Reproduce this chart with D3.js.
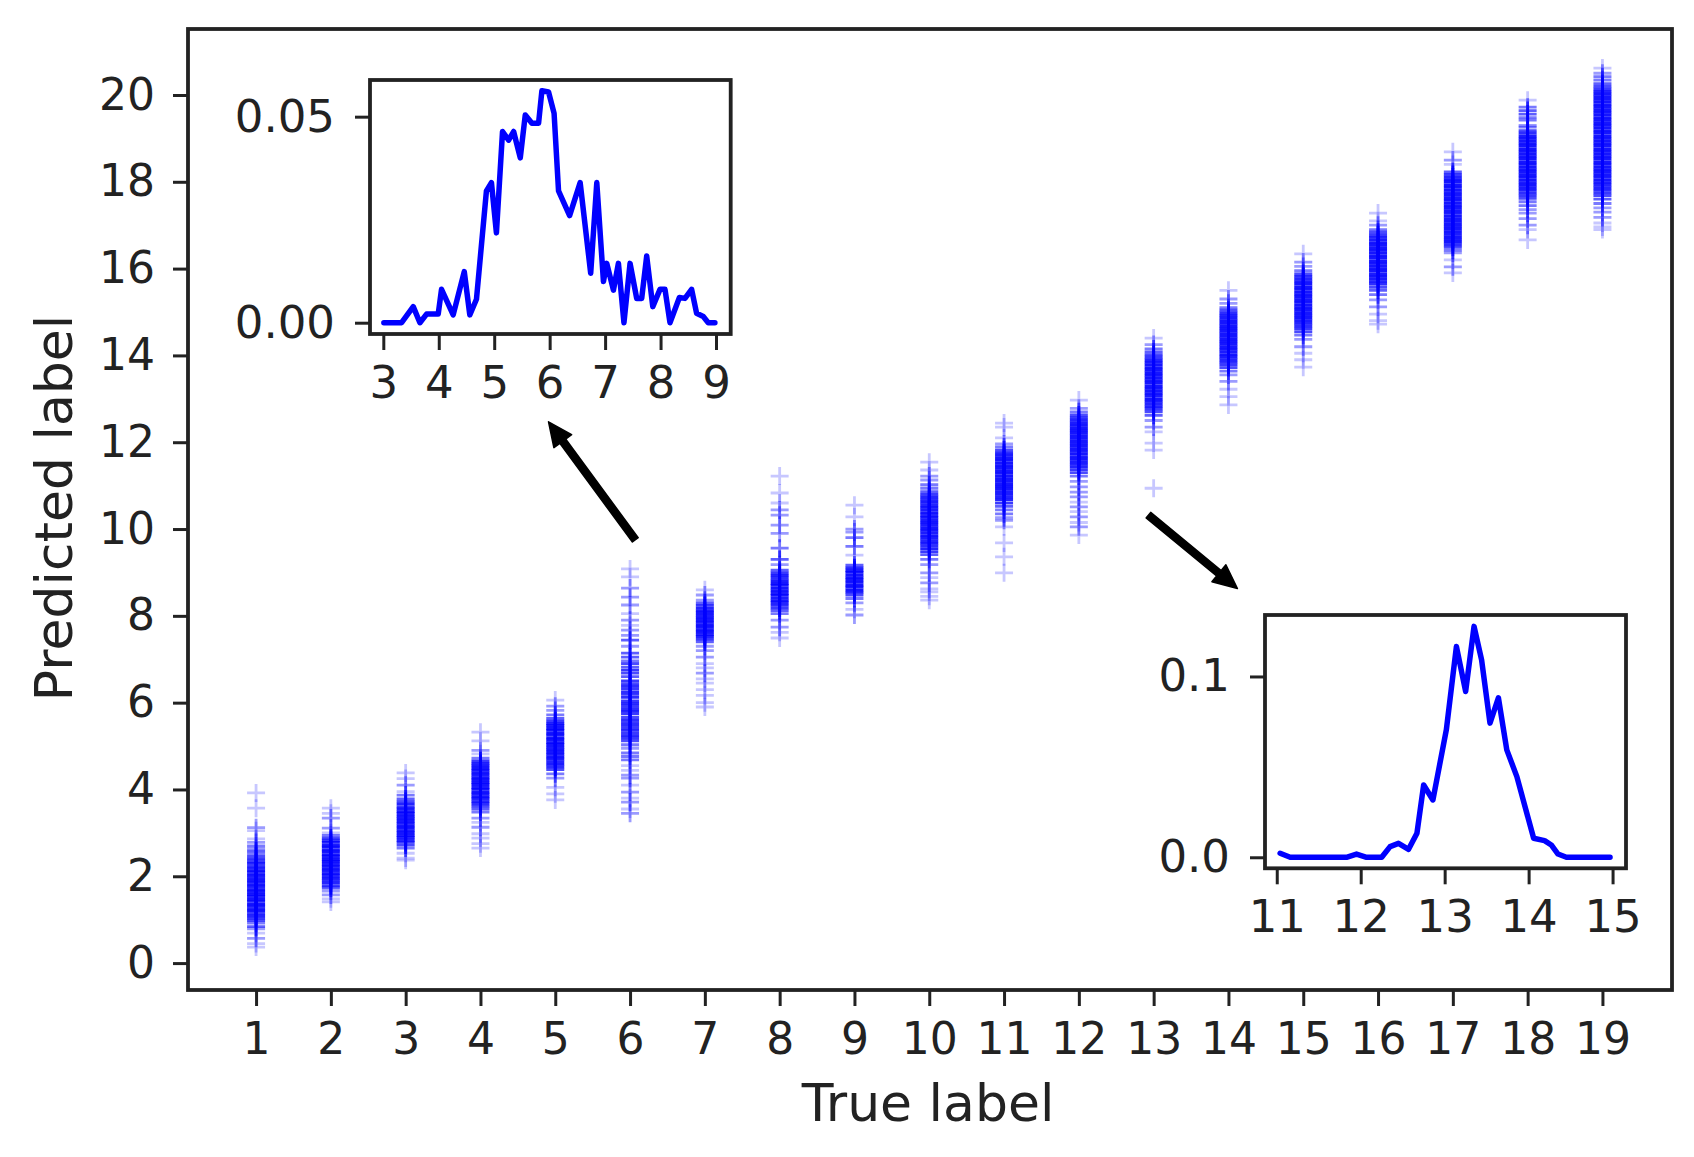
<!DOCTYPE html>
<html>
<head>
<meta charset="utf-8">
<script src="https://cdn.jsdelivr.net/npm/d3@7"></script>
<style>
  body { margin: 0; background: #fff; }
  .tick text { font-family: "DejaVu Sans", sans-serif; fill: #222; }
  .axisLabel { font-family: "DejaVu Sans", sans-serif; fill: #222; font-size: 52px; }
</style>
</head>
<body>
<div class="chart"></div>
<script>
// true labels along x
var trueLabels = [1, 2, 3, 4, 5, 6, 7, 8, 9, 10, 11, 12, 13, 14, 15, 16, 17, 18, 19];

// predicted values for each true label, as [predicted, how many points overlap there]
var predicted = [
  [[3.92,1],[3.57,1],[3.12,2],[3.05,1],[2.86,1],[2.78,2],[2.7,3],[2.64,2],[2.58,4],[2.52,3],[2.46,5],[2.4,6],[2.35,5],[2.3,8],[2.24,6],[2.19,8],[2.13,10],[2.08,7],[2.02,10],[1.97,8],[1.91,10],[1.86,9],[1.8,10],[1.75,8],[1.69,10],[1.64,9],[1.58,10],[1.53,8],[1.47,10],[1.42,8],[1.36,10],[1.31,9],[1.25,8],[1.2,10],[1.14,6],[1.09,8],[1.03,6],[0.98,5],[0.92,3],[0.84,4],[0.79,2],[0.69,1],[0.57,2],[0.45,1],[0.37,1]],
  [[3.57,1],[3.45,1],[3.34,2],[3.11,2],[3.0,1],[2.94,3],[2.88,5],[2.83,6],[2.78,8],[2.72,9],[2.67,10],[2.61,9],[2.56,10],[2.5,10],[2.45,9],[2.39,10],[2.34,10],[2.28,9],[2.23,10],[2.17,10],[2.12,9],[2.06,10],[2.01,8],[1.95,9],[1.9,7],[1.84,8],[1.78,6],[1.73,4],[1.66,2],[1.57,2],[1.48,1],[1.41,1]],
  [[4.38,1],[4.25,1],[4.1,2],[3.95,1],[3.87,3],[3.78,4],[3.72,5],[3.66,8],[3.6,6],[3.55,9],[3.49,10],[3.44,9],[3.38,10],[3.33,10],[3.27,10],[3.22,9],[3.16,10],[3.11,10],[3.05,9],[3.0,10],[2.94,9],[2.89,8],[2.83,8],[2.78,6],[2.72,5],[2.65,3],[2.53,1],[2.42,1],[2.37,1]],
  [[5.32,1],[5.12,1],[4.9,2],[4.82,1],[4.72,3],[4.66,6],[4.6,8],[4.55,9],[4.49,10],[4.44,10],[4.38,10],[4.33,9],[4.27,10],[4.22,10],[4.16,10],[4.11,10],[4.05,9],[4.0,10],[3.94,10],[3.89,9],[3.83,10],[3.78,8],[3.72,8],[3.67,7],[3.61,5],[3.55,4],[3.48,3],[3.34,2],[3.24,1],[3.13,2],[2.98,1],[2.88,1],[2.75,1],[2.65,1]],
  [[6.06,1],[5.92,2],[5.82,2],[5.72,3],[5.64,4],[5.58,6],[5.52,8],[5.47,9],[5.41,10],[5.36,10],[5.3,10],[5.25,9],[5.19,10],[5.14,10],[5.08,10],[5.03,10],[4.97,9],[4.92,10],[4.86,10],[4.81,9],[4.75,10],[4.7,9],[4.64,8],[4.58,9],[4.52,7],[4.46,5],[4.36,3],[4.26,2],[4.05,1],[3.9,1],[3.76,1]],
  [[9.08,1],[8.9,1],[8.64,2],[8.43,2],[8.25,2],[8.05,1],[7.9,2],[7.78,1],[7.67,2],[7.55,2],[7.44,4],[7.3,2],[7.14,4],[7.05,4],[6.96,3],[6.9,5],[6.82,4],[6.75,6],[6.68,5],[6.6,4],[6.5,6],[6.44,5],[6.38,7],[6.32,6],[6.25,7],[6.19,6],[6.12,7],[6.04,6],[5.98,7],[5.92,6],[5.86,7],[5.8,8],[5.74,6],[5.66,5],[5.6,7],[5.54,6],[5.48,7],[5.42,6],[5.36,7],[5.3,6],[5.24,7],[5.18,6],[5.12,5],[5.03,3],[4.95,2],[4.84,3],[4.76,3],[4.68,3],[4.55,1],[4.44,1],[4.33,2],[4.26,2],[4.1,1],[3.94,2],[3.8,1],[3.71,2],[3.55,1],[3.45,2]],
  [[8.6,1],[8.48,2],[8.36,2],[8.3,4],[8.24,6],[8.18,8],[8.12,9],[8.07,10],[8.01,9],[7.96,10],[7.9,10],[7.85,9],[7.79,10],[7.74,10],[7.68,9],[7.63,10],[7.57,8],[7.52,8],[7.46,6],[7.4,4],[7.3,2],[7.2,2],[7.05,2],[6.9,1],[6.8,1],[6.68,2],[6.55,1],[6.45,1],[6.3,1],[6.17,1],[6.0,1],[5.9,1]],
  [[11.22,1],[10.83,1],[10.6,1],[10.44,2],[10.32,2],[10.09,2],[9.9,2],[9.56,3],[9.3,4],[9.18,2],[9.05,4],[8.99,6],[8.93,8],[8.87,7],[8.81,9],[8.75,10],[8.7,9],[8.64,10],[8.58,10],[8.52,9],[8.47,10],[8.41,9],[8.35,10],[8.3,8],[8.24,7],[8.18,6],[8.12,4],[8.05,3],[7.9,2],[7.74,2],[7.62,1],[7.49,1]],
  [[10.55,1],[10.28,1],[10.0,2],[9.93,2],[9.8,3],[9.6,3],[9.4,1],[9.17,4],[9.11,7],[9.05,9],[9.0,10],[8.94,10],[8.88,10],[8.83,10],[8.77,10],[8.71,10],[8.66,9],[8.6,10],[8.54,8],[8.48,5],[8.4,3],[8.3,2],[8.15,1],[8.02,2]],
  [[11.54,1],[11.36,1],[11.22,2],[11.13,2],[11.02,3],[10.94,3],[10.86,4],[10.8,6],[10.74,8],[10.68,7],[10.62,9],[10.56,8],[10.5,10],[10.44,9],[10.38,10],[10.32,8],[10.27,10],[10.21,9],[10.15,10],[10.09,9],[10.03,10],[9.97,10],[9.91,9],[9.85,10],[9.79,9],[9.73,8],[9.67,9],[9.61,7],[9.55,8],[9.48,6],[9.41,4],[9.3,3],[9.18,2],[8.99,2],[8.88,1],[8.76,2],[8.62,1],[8.55,1],[8.45,1],[8.36,1]],
  [[12.44,1],[12.35,1],[12.1,1],[11.96,2],[11.89,3],[11.82,5],[11.76,7],[11.7,9],[11.64,10],[11.58,10],[11.52,10],[11.46,10],[11.4,10],[11.34,10],[11.28,10],[11.22,10],[11.16,10],[11.1,10],[11.04,10],[10.98,10],[10.92,10],[10.86,9],[10.8,9],[10.74,8],[10.68,8],[10.6,6],[10.52,4],[10.44,3],[10.35,3],[10.26,2],[10.2,2],[10.05,1],[9.68,1],[9.36,1],[8.99,1]],
  [[12.97,1],[12.78,2],[12.7,3],[12.63,5],[12.57,6],[12.51,8],[12.45,9],[12.39,10],[12.33,10],[12.27,10],[12.21,10],[12.15,10],[12.09,10],[12.03,10],[11.97,9],[11.91,10],[11.85,10],[11.79,9],[11.73,10],[11.67,9],[11.61,10],[11.55,9],[11.49,8],[11.43,8],[11.37,6],[11.3,5],[11.22,3],[11.1,2],[10.97,2],[10.85,2],[10.74,2],[10.62,1],[10.51,2],[10.4,1],[10.28,2],[10.15,1],[10.05,2],[9.86,1]],
  [[14.4,1],[14.25,2],[14.15,3],[14.08,4],[14.02,5],[13.96,6],[13.9,8],[13.84,9],[13.78,10],[13.72,10],[13.66,10],[13.6,10],[13.54,10],[13.48,10],[13.42,10],[13.36,10],[13.3,10],[13.24,10],[13.18,10],[13.12,10],[13.06,9],[13.0,10],[12.94,9],[12.88,8],[12.82,8],[12.76,6],[12.7,5],[12.62,4],[12.5,2],[12.35,2],[12.24,1],[11.98,1],[11.82,1],[10.94,1]],
  [[15.5,1],[15.3,2],[15.2,2],[15.1,3],[15.04,5],[14.98,7],[14.92,8],[14.86,9],[14.8,10],[14.74,10],[14.68,10],[14.62,10],[14.56,10],[14.5,10],[14.44,10],[14.38,10],[14.32,10],[14.26,10],[14.2,10],[14.14,10],[14.08,9],[14.02,10],[13.96,9],[13.9,8],[13.84,7],[13.78,6],[13.72,5],[13.64,3],[13.55,2],[13.4,2],[13.22,1],[13.05,1],[12.86,1]],
  [[16.34,1],[16.15,2],[16.05,2],[15.95,3],[15.88,5],[15.82,7],[15.76,8],[15.7,9],[15.64,10],[15.58,10],[15.52,10],[15.46,10],[15.4,10],[15.34,10],[15.28,10],[15.22,10],[15.16,10],[15.1,10],[15.04,10],[14.98,10],[14.92,9],[14.86,10],[14.8,9],[14.74,8],[14.68,7],[14.62,6],[14.55,5],[14.47,3],[14.37,2],[14.2,2],[14.05,1],[13.9,1],[13.73,1]],
  [[17.28,1],[17.1,1],[17.0,2],[16.9,3],[16.84,5],[16.78,6],[16.72,8],[16.66,9],[16.6,10],[16.54,10],[16.48,10],[16.42,10],[16.36,10],[16.3,10],[16.24,10],[16.18,10],[16.12,10],[16.06,10],[16.0,10],[15.94,10],[15.88,9],[15.82,10],[15.76,9],[15.7,8],[15.64,7],[15.57,5],[15.5,4],[15.4,3],[15.28,2],[15.12,2],[14.95,1],[14.8,1],[14.72,1]],
  [[18.69,1],[18.5,2],[18.4,1],[18.23,4],[18.17,6],[18.11,8],[18.05,10],[17.99,10],[17.93,10],[17.87,10],[17.81,10],[17.75,9],[17.69,10],[17.63,10],[17.57,10],[17.51,10],[17.45,10],[17.39,10],[17.33,10],[17.27,9],[17.21,10],[17.15,10],[17.09,10],[17.03,10],[16.97,9],[16.91,10],[16.85,10],[16.79,9],[16.73,10],[16.67,9],[16.61,10],[16.55,7],[16.49,5],[16.42,3],[16.36,2],[16.2,1],[16.04,2],[15.9,1]],
  [[19.88,1],[19.72,3],[19.64,4],[19.56,4],[19.48,3],[19.42,3],[19.3,2],[19.26,3],[19.18,5],[19.12,7],[19.06,9],[19.0,10],[18.94,10],[18.88,10],[18.82,10],[18.76,10],[18.7,10],[18.64,10],[18.58,10],[18.52,10],[18.46,10],[18.4,10],[18.34,10],[18.28,10],[18.22,10],[18.16,10],[18.1,10],[18.04,10],[17.98,9],[17.92,10],[17.86,9],[17.8,8],[17.74,7],[17.68,6],[17.62,5],[17.54,3],[17.45,3],[17.36,2],[17.28,2],[17.15,2],[17.0,2],[16.9,1],[16.66,1]],
  [[20.62,1],[20.5,2],[20.42,3],[20.34,3],[20.26,4],[20.2,5],[20.14,6],[20.08,8],[20.02,10],[19.96,10],[19.9,10],[19.84,10],[19.78,10],[19.72,10],[19.66,10],[19.6,10],[19.54,10],[19.48,10],[19.42,10],[19.36,10],[19.3,10],[19.24,10],[19.18,10],[19.12,10],[19.06,10],[19.0,10],[18.94,10],[18.88,10],[18.82,10],[18.76,10],[18.7,10],[18.64,10],[18.58,10],[18.52,10],[18.46,10],[18.4,10],[18.34,10],[18.28,10],[18.22,10],[18.16,10],[18.1,9],[18.04,10],[17.98,9],[17.92,8],[17.86,8],[17.8,7],[17.74,6],[17.68,5],[17.6,4],[17.5,3],[17.4,2],[17.3,2],[17.18,2],[17.05,1],[16.96,1],[16.9,1]]
];

var yTicks = [0, 2, 4, 6, 8, 10, 12, 14, 16, 18, 20];

// inset 1: distribution of predictions for true label 6
var inset1X = [3.01,3.33,3.54,3.66,3.78,3.99,4.05,4.26,4.46,4.56,4.68,4.86,4.95,5.04,5.15,5.26,5.35,5.47,5.56,5.68,5.80,5.86,5.98,6.08,6.16,6.36,6.55,6.74,6.85,6.97,7.03,7.15,7.24,7.34,7.45,7.57,7.66,7.75,7.86,7.99,8.08,8.17,8.34,8.44,8.56,8.65,8.77,8.86,8.98];
var inset1Y = [0,0,0.0039,0,0.0021,0.0021,0.0081,0.0019,0.0124,0.0019,0.0057,0.032,0.034,0.0218,0.0464,0.0443,0.0464,0.040,0.0504,0.0484,0.0484,0.0563,0.056,0.0508,0.032,0.026,0.034,0.012,0.034,0.010,0.0144,0.0079,0.0144,0,0.0144,0.0059,0.0059,0.0162,0.0039,0.0081,0.0081,0,0.0061,0.0059,0.0081,0.0023,0.0015,0,0];
var inset1XTicks = [3, 4, 5, 6, 7, 8, 9];
var inset1YTicks = [0, 0.05];

// inset 2: distribution of predictions for true label 13
var inset2X = [11.04,11.16,11.83,11.95,12.07,12.25,12.35,12.45,12.57,12.67,12.75,12.86,13.02,13.14,13.25,13.35,13.44,13.54,13.64,13.74,13.86,14.06,14.19,14.27,14.35,14.45,14.97];
var inset2Y = [0.0022,0,0,0.0018,0,0,0.0059,0.0077,0.0044,0.0133,0.040,0.0317,0.0705,0.1166,0.0917,0.1277,0.1092,0.0742,0.0882,0.0594,0.0446,0.0105,0.0092,0.0068,0.0018,0,0];
var inset2XTicks = [11, 12, 13, 14, 15];
var inset2YTicks = [0, 0.1];

// arrows, in main data coordinates: [from, to]
var arrows = [
  [[6.07, 9.75], [4.91, 12.47]],
  [[12.93, 10.32], [14.12, 8.63]]
];

var svgWidth = 1694;
var svgHeight = 1157;

var svg = d3.select(".chart")
  .append("svg")
  .attr("width", svgWidth)
  .attr("height", svgHeight)
  .style("display", "block");

svg.append("rect").attr("width", svgWidth).attr("height", svgHeight).attr("fill", "#fff");

// main scales
var xScale = d3.scaleLinear().domain([0.09, 19.93]).range([188, 1672]);
var yScale = d3.scaleLinear().domain([-0.62, 21.52]).range([990, 29]);

// scatter of '+' markers
var alpha = 0.22;
var plus = "M-9,0H9M0,-9V9";
var points = [];
predicted.forEach(function (list, i) {
  list.forEach(function (p) {
    points.push({ t: trueLabels[i], v: p[0], n: p[1] });
  });
});

svg.append("g")
  .selectAll("path")
  .data(points)
  .enter()
  .append("path")
  .attr("d", plus)
  .attr("transform", d => `translate(${xScale(d.t)},${yScale(d.v)})`)
  .attr("fill", "none")
  .attr("stroke", "#0000ff")
  .attr("stroke-width", 2.8)
  .attr("stroke-opacity", d => 1 - Math.pow(1 - alpha, d.n));

// axes helper
function styleAxis(g, fontSize) {
  g.select(".domain").remove();
  g.selectAll(".tick line").attr("stroke", "#222").attr("stroke-width", 3);
  g.selectAll(".tick text").style("font-size", fontSize + "px");
}

function frame(x0, x1, y0, y1) {
  svg.append("rect")
    .attr("x", x0).attr("y", y1)
    .attr("width", x1 - x0).attr("height", y0 - y1)
    .attr("fill", "none")
    .attr("stroke", "#222")
    .attr("stroke-width", 3.8);
}

// main axes
svg.append("g")
  .attr("transform", "translate(0,990)")
  .call(d3.axisBottom(xScale).tickValues(trueLabels).tickFormat(d3.format("d")).tickSize(16).tickPadding(17).tickSizeOuter(0))
  .call(g => styleAxis(g, 44));

svg.append("g")
  .attr("transform", "translate(188,0)")
  .call(d3.axisLeft(yScale).tickValues(yTicks).tickFormat(d3.format("d")).tickSize(15).tickPadding(18).tickSizeOuter(0))
  .call(g => styleAxis(g, 44));

frame(188, 1672, 990, 29);

svg.append("text")
  .attr("class", "axisLabel")
  .attr("x", 928)
  .attr("y", 1121)
  .attr("text-anchor", "middle")
  .text("True label");

svg.append("text")
  .attr("class", "axisLabel")
  .attr("transform", "translate(72,508) rotate(-90)")
  .attr("text-anchor", "middle")
  .text("Predicted label");

// arrows
arrows.forEach(function (a) {
  var x1 = xScale(a[0][0]), y1 = yScale(a[0][1]);
  var x2 = xScale(a[1][0]), y2 = yScale(a[1][1]);
  var ang = Math.atan2(y2 - y1, x2 - x1);
  var len = Math.hypot(x2 - x1, y2 - y1);
  var headLen = 24, headW = 11, shaftW = 3.6;
  var g = svg.append("g")
    .attr("transform", `translate(${x1},${y1}) rotate(${ang * 180 / Math.PI})`);
  g.append("path")
    .attr("d", `M0,${-shaftW}L${len - headLen},${-shaftW}L${len - headLen},${-headW}L${len},0L${len - headLen},${headW}L${len - headLen},${shaftW}L0,${shaftW}Z`)
    .attr("fill", "#000")
    .attr("stroke", "#000")
    .attr("stroke-width", 1.5)
    .attr("stroke-linejoin", "round");
});

// insets
function inset(xs, ys, xDom, yDom, xRange, yRange, xTicks, yTicks, yFmt) {
  var ix = d3.scaleLinear().domain(xDom).range(xRange);
  var iy = d3.scaleLinear().domain(yDom).range(yRange);

  svg.append("rect")
    .attr("x", xRange[0]).attr("y", yRange[1])
    .attr("width", xRange[1] - xRange[0]).attr("height", yRange[0] - yRange[1])
    .attr("fill", "#fff");

  var line = d3.line()
    .x((d, i) => ix(xs[i]))
    .y((d, i) => iy(ys[i]));

  svg.append("path")
    .datum(xs)
    .attr("d", line)
    .attr("fill", "none")
    .attr("stroke", "#0000ff")
    .attr("stroke-width", 5.5)
    .attr("stroke-linejoin", "round")
    .attr("stroke-linecap", "round");

  svg.append("g")
    .attr("transform", `translate(0,${yRange[0]})`)
    .call(d3.axisBottom(ix).tickValues(xTicks).tickFormat(d3.format("d")).tickSize(16).tickPadding(16).tickSizeOuter(0))
    .call(g => styleAxis(g, 45));

  svg.append("g")
    .attr("transform", `translate(${xRange[0]},0)`)
    .call(d3.axisLeft(iy).tickValues(yTicks).tickFormat(d3.format(yFmt)).tickSize(15).tickPadding(20).tickSizeOuter(0))
    .call(g => styleAxis(g, 45));

  frame(xRange[0], xRange[1], yRange[0], yRange[1]);
}

inset(inset1X, inset1Y, [2.76, 9.265], [-0.00274, 0.0589], [370, 730.7], [334, 80], inset1XTicks, inset1YTicks, ".2f");
inset(inset2X, inset2Y, [10.86, 15.16], [-0.0061, 0.134], [1265, 1626], [868.3, 615], inset2XTicks, inset2YTicks, ".1f");
</script>
</body>
</html>
